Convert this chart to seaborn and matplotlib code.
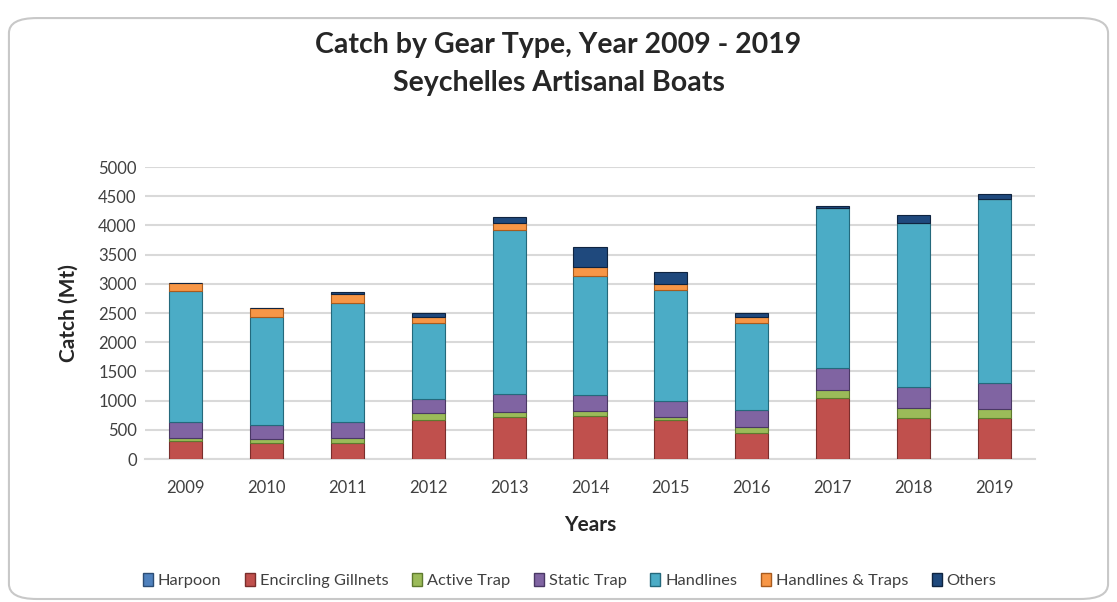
import numpy as np
import pandas as pd
import matplotlib
matplotlib.use("Agg")
import matplotlib.pyplot as plt
import seaborn as sns
from matplotlib.patches import Patch, FancyBboxPatch

# Data (Mt)
years = ["2009", "2010", "2011", "2012", "2013", "2014", "2015", "2016", "2017", "2018", "2019"]
harpoon = [0, 0, 0, 0, 0, 0, 0, 0, 0, 0, 0]
encircling_gillnets = [308, 269, 269, 668, 724, 736, 668, 450, 1039, 707, 697]
active_trap = [57, 68, 96, 115, 86, 86, 46, 93, 143, 161, 154]
static_trap = [269, 245, 269, 239, 297, 274, 279, 296, 381, 359, 445]
handlines = [2243, 1855, 2032, 1301, 2814, 2038, 1901, 1484, 2741, 2819, 3151]
handlines_traps = [131, 143, 159, 114, 125, 159, 103, 114, 0, 0, 0]
others = [0, 0, 29, 58, 93, 332, 205, 68, 34, 132, 85]

gear_names = ["Harpoon", "Encircling Gillnets", "Active Trap", "Static Trap",
              "Handlines", "Handlines & Traps", "Others"]
gear_colors = ["#4F81BD", "#C0504D", "#9BBB59", "#8064A2",
               "#4BACC6", "#F79646", "#1F497D"]
gear_edges = ["#2C4D75", "#7A2E2C", "#5E7A2E", "#4A3865",
              "#24697C", "#A85B1E", "#0F2440"]

series = [harpoon, encircling_gillnets, active_trap, static_trap,
          handlines, handlines_traps, others]

sns.set_style("white")
plt.rcParams["font.family"] = ["Lato", "DejaVu Sans"]

fig = plt.figure(figsize=(11.17, 6.02), dpi=100)
ax = fig.add_axes([0.1298, 0.2375, 0.7968, 0.485])

# rounded frame around the chart
frame = FancyBboxPatch((0.008, 0.005), 0.984, 0.965,
                       boxstyle="round,pad=0,rounding_size=0.025",
                       transform=fig.transFigure, facecolor="white",
                       edgecolor="#C8C8C8", linewidth=1.5, zorder=-10)
fig.patches.append(frame)

bottom = np.zeros(len(years))
for name, vals, col, ec in zip(gear_names, series, gear_colors, gear_edges):
    df = pd.DataFrame({"year": years, "catch": vals})
    sns.barplot(data=df, x="year", y="catch", color=col, bottom=bottom,
                width=0.41, edgecolor=ec, linewidth=0.8, ax=ax, zorder=3,
                saturation=1)
    bottom += np.array(vals)

ax.set_ylim(0, 5000)
ax.set_xlim(-0.5, len(years) - 0.5)
ax.set_yticks(range(0, 5001, 500))
ax.yaxis.grid(True, color="#D9D9D9", linewidth=1.5, zorder=0)
ax.set_axisbelow(True)
for s in ["top", "right", "left"]:
    ax.spines[s].set_visible(False)
ax.spines["bottom"].set_color("#D9D9D9")
ax.spines["bottom"].set_linewidth(1.5)
ax.tick_params(axis="both", length=0, labelsize=12, colors="#404040")
ax.tick_params(axis="y", pad=6)
ax.tick_params(axis="x", pad=15)

ax.set_xlabel("Years", fontsize=15, fontweight="bold", labelpad=14)
ax.set_ylabel("Catch (Mt)", fontsize=15, fontweight="bold", labelpad=14)

fig.text(0.5, 0.925, "Catch by Gear Type, Year 2009 - 2019", ha="center",
         va="center", fontsize=20.5, fontweight="bold")
fig.text(0.5, 0.862, "Seychelles Artisanal Boats", ha="center",
         va="center", fontsize=20.5, fontweight="bold")

handles = [Patch(facecolor=c, edgecolor=e, label=n)
           for n, c, e in zip(gear_names, gear_colors, gear_edges)]
fig.legend(handles=handles, loc="center", bbox_to_anchor=(0.51, 0.036),
           ncol=7, frameon=False, fontsize=11.8, handlelength=0.6,
           handleheight=0.9, handletextpad=0.3, columnspacing=1.45,
           labelcolor="#404040")

fig.savefig("out.png", dpi=100)
